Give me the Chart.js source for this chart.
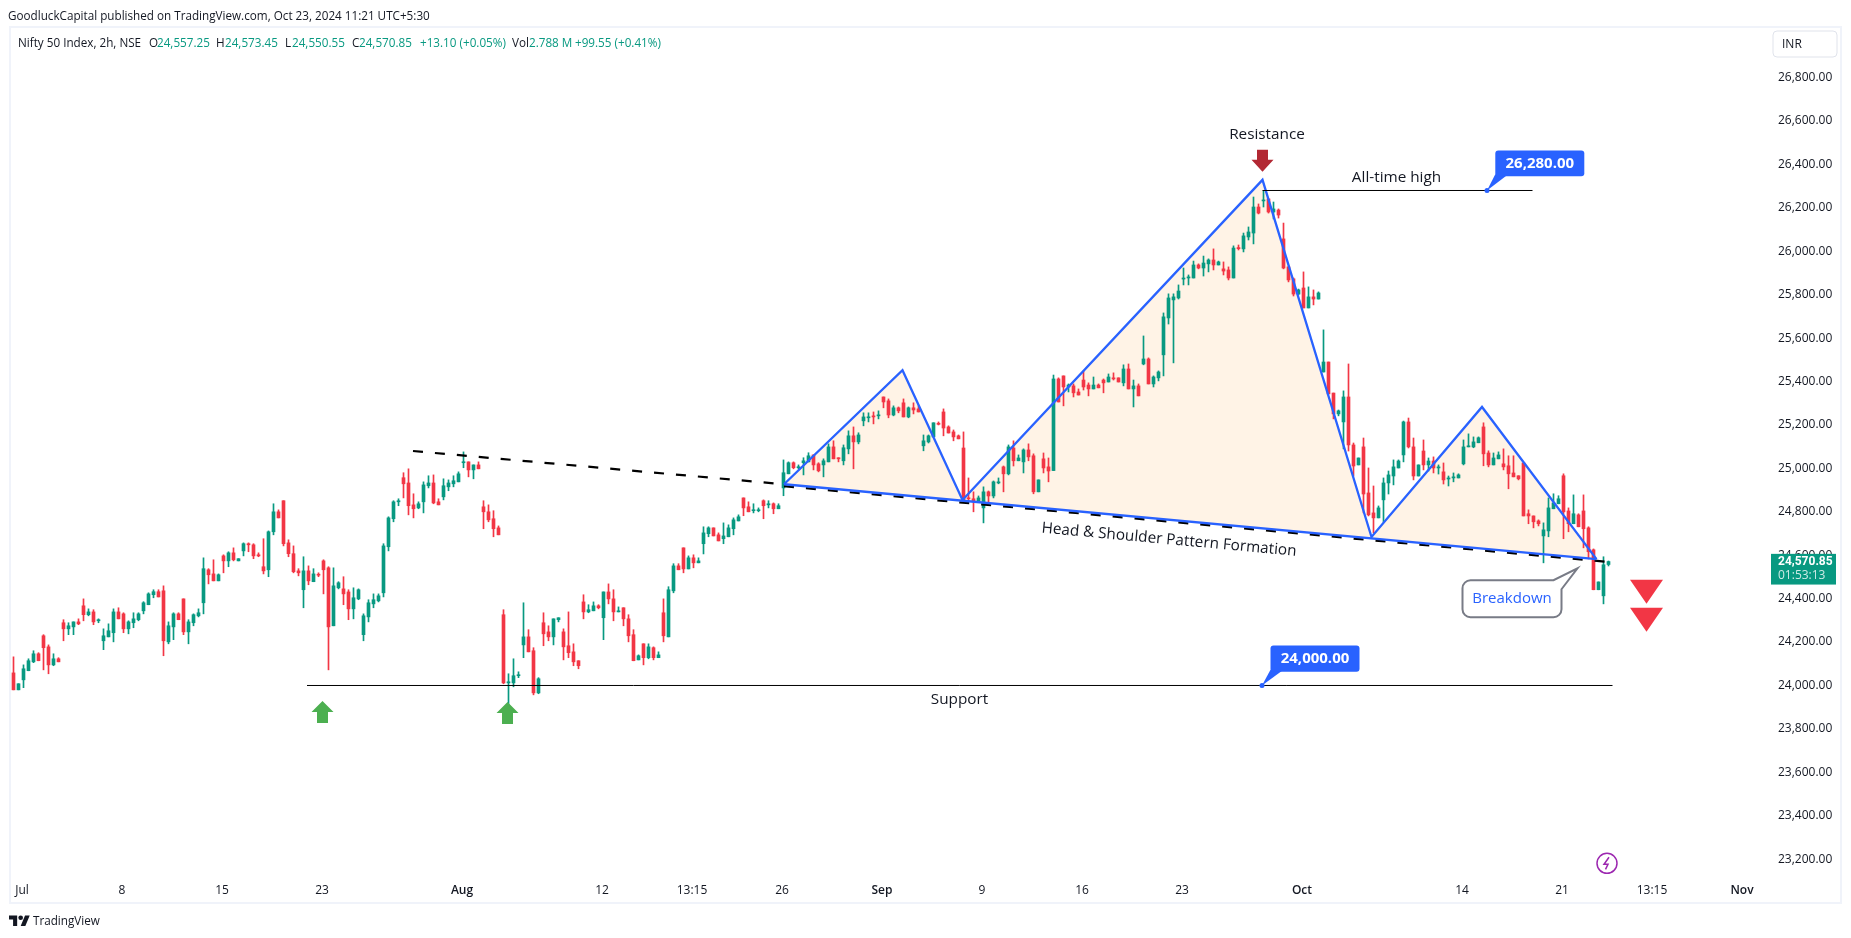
<!DOCTYPE html>
<html><head><meta charset="utf-8"><title>Nifty 50 Index</title>
<script src="https://cdn.jsdelivr.net/npm/chart.js@4"></script>
<style>
html,body{margin:0;padding:0;background:#fff;width:1851px;height:938px;overflow:hidden}
canvas{position:absolute;left:0;top:0}
.t{position:absolute;white-space:nowrap;font-family:"Open Sans",sans-serif;font-size:11.7px;line-height:16px;color:#131722}
.g{color:#089981}
</style></head><body>
<canvas id="c" width="1851" height="938"></canvas>
<div id="overlay"></div>
<svg style="position:absolute;left:9px;top:913px" width="21" height="13" viewBox="0 0 36 22"><path fill="#131722" d="M14 22H7V11H0V4h14v18zM28 22h-8l7.5-18h8L28 22z"/><circle fill="#131722" cx="20" cy="8" r="4"/></svg>
<script>
const opens=[24058,23980,24026,24068,24109,24146,24229,24178,24095,24123,
24289,24261,24270,24293,24367,24326,24339,24298,24206,24224,
24243,24339,24330,24261,24289,24303,24344,24372,24418,24432,
24436,24201,24270,24330,24399,24247,24289,24321,24381,24533,
24514,24482,24597,24574,24611,24574,24620,24653,24648,24602,
24547,24533,24708,24800,24851,24657,24607,24528,24441,24528,
24478,24511,24574,24542,24275,24450,24445,24431,24353,24399,
24234,24316,24376,24390,24427,24639,24768,24846,24957,24933,
24832,24818,24846,24920,24933,24846,24869,24915,24929,24938,
25026,25030,24993,25016,24823,24800,24768,24726,24326,24012,
24012,24045,24187,24224,24160,23966,24289,24247,24224,24303,
24247,24183,24155,24114,24385,24339,24344,24367,24312,24431,
24399,24339,24358,24307,24234,24118,24192,24128,24174,24128,
24335,24224,24436,24551,24634,24537,24588,24565,24653,24699,
24726,24694,24676,24685,24722,24758,24864,24823,24805,24805,
24851,24832,24837,24814,24910,24975,25026,25003,25026,25030,
25062,25021,25016,25030,25099,25049,25035,25090,25150,25122,
25219,25233,25242,25242,25329,25311,25246,25279,25302,25237,
25279,25274,25104,25122,25145,25208,25260,25191,25168,25150,
25094,24864,24860,24846,24818,24892,24873,24933,25007,24975,
25094,25035,25030,25085,25058,24892,25044,25007,24990,25412,
25426,25375,25380,25352,25407,25384,25366,25384,25407,25398,
25417,25417,25394,25458,25366,25380,25481,25504,25389,25417,
25523,25693,25776,25785,25872,25877,25877,25937,25923,25942,
25960,25937,25919,25914,25877,26017,26011,26066,26084,26204,
26232,26241,26181,26190,26057,25928,25873,25803,25831,25739,
25790,25780,25444,25490,25347,25251,25214,25329,25108,25016,
25099,24887,24795,24772,24855,24933,24965,25002,25062,25214,
25099,24965,25080,25016,25034,25002,24984,24951,24956,24956,
25021,25099,25099,25118,25191,25071,25016,25044,25021,25012,
24979,24966,25025,24791,24781,24758,24689,24712,24814,24837,
24966,24804,24745,24786,24804,24726,24625,24441,24413,24557.25];
const highs=[24132,24008,24095,24123,24160,24151,24234,24187,24146,24128,
24303,24289,24293,24307,24399,24353,24349,24307,24261,24284,
24353,24358,24335,24298,24335,24335,24386,24427,24441,24441,
24459,24293,24335,24335,24399,24303,24330,24353,24588,24538,
24579,24514,24602,24616,24634,24584,24657,24657,24653,24611,
24676,24712,24837,24809,24851,24671,24643,24538,24593,24551,
24538,24519,24579,24547,24542,24478,24501,24441,24450,24445,
24330,24395,24422,24422,24653,24777,24851,24860,24980,24998,
24883,24846,24938,24966,24970,24860,24952,24947,24966,24984,
25076,25030,25016,25030,24851,24832,24805,24735,24349,24054,
24123,24063,24381,24257,24174,24036,24335,24275,24307,24312,
24261,24339,24192,24114,24418,24372,24385,24372,24431,24468,
24441,24362,24358,24326,24257,24141,24192,24192,24178,24155,
24399,24455,24561,24561,24634,24597,24602,24588,24731,24731,
24726,24703,24749,24740,24772,24786,24864,24846,24837,24818,
24855,24851,24841,24837,25039,25030,25030,25016,25049,25072,
25062,25026,25044,25113,25127,25049,25108,25173,25191,25164,
25256,25256,25260,25265,25329,25320,25288,25283,25320,25283,
25302,25288,25154,25154,25210,25214,25274,25196,25177,25154,
25168,24956,24892,24873,24915,24896,24942,24956,25011,25108,
25127,25062,25090,25113,25067,24947,25071,25048,25430,25417,
25426,25389,25389,25366,25449,25394,25421,25389,25412,25435,
25440,25417,25477,25481,25407,25389,25610,25509,25426,25449,
25716,25804,25804,25845,25923,25891,25955,25942,25978,25965,
26011,25955,25951,25928,26025,26029,26084,26112,26250,26218,
26278,26241,26227,26195,26130,25932,25877,25826,25905,25836,
25822,25813,25638,25490,25347,25269,25357,25481,25117,25048,
25140,25002,24919,24827,24956,24988,25039,25039,25218,25232,
25140,25016,25131,25048,25053,25016,25025,24965,24979,24975,
25131,25159,25145,25145,25210,25081,25071,25076,25090,25058,
25058,24966,25025,24809,24781,24763,24749,24864,24883,24874,
24975,24818,24878,24791,24878,24731,24629,24477,24593,24573.45];
const lows=[23980,23980,23990,24068,24105,24114,24072,24054,24091,24109,
24206,24234,24234,24280,24298,24321,24280,24289,24165,24224,
24201,24307,24243,24238,24266,24298,24330,24372,24404,24408,
24137,24192,24211,24303,24234,24192,24275,24316,24330,24468,
24482,24482,24519,24547,24574,24574,24597,24616,24584,24593,
24514,24501,24694,24772,24643,24593,24519,24505,24358,24464,
24478,24501,24422,24072,24275,24445,24372,24303,24307,24395,
24206,24293,24358,24385,24408,24620,24754,24828,24864,24786,
24772,24814,24795,24910,24837,24832,24855,24897,24915,24938,
25003,24961,24952,24998,24722,24754,24685,24694,24008,23893,
23994,24036,24128,24155,23957,23962,24183,24206,24187,24293,
24118,24128,24091,24077,24307,24335,24344,24353,24211,24376,
24298,24339,24275,24201,24114,24118,24095,24123,24118,24128,
24201,24224,24427,24533,24519,24537,24542,24565,24606,24685,
24689,24666,24653,24685,24694,24758,24782,24800,24795,24800,
24768,24818,24791,24814,24874,24975,24998,24998,24970,25030,
24993,24984,24961,25030,25044,25030,25016,25067,24998,25113,
25196,25214,25205,25228,25279,25233,25242,25256,25237,25233,
25251,25260,25081,25117,25145,25200,25150,25163,25127,25136,
24850,24850,24800,24846,24749,24832,24864,24929,24892,24970,
25011,25035,24979,25035,24883,24892,24979,24938,24990,25306,
25288,25352,25329,25338,25361,25334,25366,25371,25348,25398,
25407,25398,25380,25366,25283,25334,25477,25389,25375,25403,
25426,25665,25486,25780,25845,25845,25877,25919,25886,25905,
25914,25937,25891,25868,25877,26006,25997,26052,26034,26172,
26204,26176,26149,26153,25919,25859,25794,25799,25739,25739,
25753,25780,25444,25343,25228,25242,25090,25080,24965,25016,
24795,24781,24703,24772,24753,24882,24924,25002,25030,25094,
24947,24965,24993,24988,24979,24974,24928,24919,24938,24956,
25016,25099,25095,25118,25012,25007,25016,25044,24993,24906,
24961,24947,24781,24745,24726,24735,24565,24685,24814,24837,
24676,24708,24745,24731,24634,24583,24441,24441,24376,24550.55];
const closes=[23980,24008,24077,24114,24146,24114,24174,24095,24123,24109,
24261,24275,24293,24284,24326,24339,24293,24303,24229,24252,
24339,24307,24261,24293,24307,24330,24381,24422,24432,24408,
24206,24275,24330,24303,24247,24293,24326,24335,24538,24510,
24482,24510,24574,24611,24579,24584,24653,24648,24597,24597,
24528,24708,24800,24772,24653,24607,24524,24519,24528,24482,
24514,24508,24533,24270,24459,24473,24422,24353,24404,24441,
24321,24381,24395,24413,24643,24772,24846,24851,24929,24828,
24814,24837,24924,24933,24841,24832,24920,24933,24943,24975,
25030,24993,25016,24998,24800,24763,24722,24694,24012,24017,
24045,24049,24224,24155,23966,24031,24238,24224,24307,24312,
24178,24151,24109,24091,24339,24349,24367,24358,24431,24399,
24339,24344,24307,24229,24114,24137,24128,24178,24128,24141,
24229,24441,24551,24533,24537,24588,24565,24574,24703,24726,
24689,24666,24689,24726,24763,24777,24818,24800,24809,24809,
24828,24837,24814,24828,24980,25026,25003,25007,25035,25058,
25016,24989,25035,25099,25044,25044,25095,25150,25122,25154,
25237,25237,25237,25246,25306,25246,25279,25265,25237,25279,
25269,25260,25127,25150,25210,25203,25186,25163,25145,25136,
24850,24860,24846,24864,24892,24873,24938,24938,24975,25099,
25035,25048,25085,25053,24892,24947,25002,24988,25412,25306,
25375,25384,25348,25338,25375,25366,25384,25371,25394,25421,
25412,25398,25458,25366,25380,25334,25504,25389,25421,25444,
25698,25785,25790,25817,25877,25882,25937,25923,25946,25960,
25937,25951,25909,25877,26015,26012,26071,26089,26204,26176,
26236,26181,26195,26167,25923,25868,25803,25822,25739,25790,
25780,25808,25490,25343,25251,25265,25329,25108,25011,25048,
24882,24786,24772,24818,24933,24970,25007,25034,25214,25099,
24965,25016,25016,25034,25002,25007,24947,24956,24961,24970,
25099,25104,25122,25141,25067,25016,25048,25062,25007,24975,
24961,24952,24781,24781,24754,24745,24717,24818,24841,24860,
24800,24745,24791,24731,24722,24616,24441,24477,24556,24570.85];

const priceTicks=[23200,23400,23600,23800,24000,24200,24400,24600,24800,25000,25200,25400,25600,25800,26000,26200,26400,26600,26800];
const dateLabels=['Jul','8','15','23','Aug','12','13:15','26','Sep','9','16','23','Oct','14','21','13:15','Nov'];
const dateIndex=[1.7,21.7,41.7,61.7,89.7,117.7,135.7,153.7,173.7,193.7,213.7,233.7,257.7,289.7,309.7,327.7,345.7];
const monthLabels=['Aug','Sep','Oct','Nov'];

const patternIndex=[154.1,177.8,189.8,249.8,271.6,293.7,316.6];
const patternPrice=[24927,25452,24854,26329,24684,25283,24582];
const neckIndex=[154.1,316.6];
const neckPrice=[24927,24582];
const dashIndex=[79.9,154.1];
const dashPrice=[25080,24927];
const neckDashIndex=[154.1,319];
const neckDashPrice=[24918,24569];
const supportIndex=[58.7,319.8];
const supportPrice=[24000,24000];
const athIndex=[249.8,303.8];
const athPrice=[26280,26280];

const GREEN='#089981',RED='#f23645',BLUE='#2962ff',INK='#131722';
const SANS='"Open Sans",sans-serif';
const fmt=v=>v.toLocaleString('en-US',{minimumFractionDigits:2,maximumFractionDigits:2});
const pts=(xs,ys)=>xs.map((x,i)=>({x,y:ys[i]}));
const candleColor=opens.map((o,i)=>closes[i]>=o?GREEN:RED);
const lineBase={type:'line',pointRadius:0,tension:0,fill:false};

function roundRect(ctx,x,y,w,h,r){ctx.beginPath();ctx.roundRect(x,y,w,h,r);}
function poly(ctx,p,color){ctx.fillStyle=color;ctx.beginPath();p.forEach((q,i)=>i?ctx.lineTo(q[0],q[1]):ctx.moveTo(q[0],q[1]));ctx.closePath();ctx.fill();}
function label(ctx,s,x,y,font,color,align,rot){ctx.save();ctx.translate(x,y);if(rot)ctx.rotate(rot);ctx.font=font;ctx.fillStyle=color;ctx.textAlign=align||'center';ctx.textBaseline='middle';ctx.fillText(s,0,0);ctx.restore();}

const annotate={id:'annotate',afterDraw(chart){
  const {ctx,scales:{x,y}}=chart;
  const X=i=>x.getPixelForValue(i),Y=p=>y.getPixelForValue(p);
  ctx.save();
  // frame
  ctx.strokeStyle='#f0f3fa';ctx.lineWidth=2;ctx.strokeRect(10,27,1831,876);
  // texts on chart
  const f15='15.3px '+SANS;
  label(ctx,'Resistance',X(250.7),Y(26539),f15,INK);
  label(ctx,'All-time high',X(276.6),Y(26339),f15,INK);
  label(ctx,'Support',X(189.2),Y(23934),f15,INK);
  label(ctx,'Head & Shoulder Pattern Formation',X(231.1),Y(24671),f15,INK,'center',0.0905);
  // arrows
  [[61.8,23928],[98.8,23924]].forEach(([i,p])=>{const a=X(i),b=Y(p);
    poly(ctx,[[a,b],[a+11,b+11],[a+5.5,b+11],[a+5.5,b+22],[a-5.5,b+22],[a-5.5,b+11],[a-11,b+11]],'#4caf50');});
  {const a=X(249.8),b=Y(26366);
    poly(ctx,[[a,b],[a+11,b-12],[a+5.5,b-12],[a+5.5,b-22],[a-5.5,b-22],[a-5.5,b-12],[a-11,b-12]],'#b22833');}
  [24377,24248].forEach(p=>{const a=X(326.6),b=Y(p);poly(ctx,[[a,b],[a+16.5,b-24],[a-16.5,b-24]],RED);});
  // price pins
  [[294.7,26280,8.3,-40,89,25.7],[249.7,24000,8.5,-40,89,26.3]].forEach(([i,p,dx,dy,w,h])=>{
    const a=X(i),b=Y(p);
    poly(ctx,[[a,b],[a+dx,b+dy+h-2],[a+dx+13,b+dy+h-2]],BLUE);
    ctx.fillStyle=BLUE;roundRect(ctx,a+dx,b+dy,w,h,3);ctx.fill();
    ctx.beginPath();ctx.arc(a,b,2.5,0,Math.PI*2);ctx.fill();
    label(ctx,fmt(p),a+dx+w/2,b+dy+h/2,'bold 15px '+SANS,'#fff');
  });
  // breakdown callout
  {const a=X(312.8),b=Y(24540),l=a-115,t=b+12,w=99,h=37,r=8;
    ctx.beginPath();ctx.moveTo(l+r,t);ctx.lineTo(a-24,t);ctx.lineTo(a,b);ctx.lineTo(l+w,t+9);ctx.lineTo(l+w,t+h-r);
    ctx.arcTo(l+w,t+h,l+w-r,t+h,r);ctx.lineTo(l+r,t+h);ctx.arcTo(l,t+h,l,t+h-r,r);ctx.lineTo(l,t+r);ctx.arcTo(l,t,l+r,t,r);ctx.closePath();
    ctx.fillStyle='#fff';ctx.fill();ctx.strokeStyle='#787b86';ctx.lineWidth=2;ctx.stroke();
    label(ctx,'Breakdown',l+w/2,t+h/2,'15px '+SANS,BLUE);}
  // bolt icon
  {const a=X(318.7),b=Y(23181);ctx.strokeStyle='#9c27b0';ctx.lineWidth=1.5;ctx.beginPath();ctx.arc(a,b,10,0,Math.PI*2);ctx.stroke();
    ctx.beginPath();ctx.moveTo(a+2,b-6);ctx.lineTo(a-3,b+1);ctx.lineTo(a+1,b+1);ctx.lineTo(a-1.5,b+6);ctx.stroke();}
  // last price tag
  {const last=closes[closes.length-1],b=Y(last);ctx.fillStyle=GREEN;ctx.fillRect(1771,b-7.7,65,30.7);
    label(ctx,fmt(last),1778,b,'bold 12px Roboto,sans-serif','#fff','left');
    label(ctx,'01:53:13',1778,b+14,'12px '+SANS,'rgba(255,255,255,.8)','left');}
  // currency button
  ctx.fillStyle='#fff';ctx.strokeStyle='#e0e3eb';ctx.lineWidth=1;roundRect(ctx,1773,31,64,26,4);ctx.fill();ctx.stroke();
  label(ctx,'INR',1782,44.5,'12px '+SANS,INK,'left');
  ctx.restore();
}};

new Chart(document.getElementById('c'),{
  type:'bar',
  data:{datasets:[
    Object.assign({},lineBase,{data:pts(patternIndex,patternPrice),borderWidth:0,borderColor:'transparent',backgroundColor:'#fff3e6',fill:'+1',order:20}),
    Object.assign({},lineBase,{data:pts(neckIndex,neckPrice),borderWidth:0,borderColor:'transparent',order:21}),
    {data:opens.map((o,i)=>({x:i,y:[lows[i],highs[i]]})),backgroundColor:candleColor,barThickness:1,grouped:false,order:6},
    {data:opens.map((o,i)=>({x:i,y:[o,closes[i]]})),backgroundColor:candleColor,barThickness:3,minBarLength:1,grouped:false,order:5},
    Object.assign({},lineBase,{data:pts(dashIndex,dashPrice),borderColor:'#000',borderWidth:2.2,borderDash:[10,12],order:4}),
    Object.assign({},lineBase,{data:pts(neckDashIndex,neckDashPrice),borderColor:'#000',borderWidth:2.2,borderDash:[10,12],order:4}),
    Object.assign({},lineBase,{data:pts(neckIndex,neckPrice),borderColor:BLUE,borderWidth:2.3,order:3}),
    Object.assign({},lineBase,{data:pts(patternIndex,patternPrice),borderColor:BLUE,borderWidth:2.3,borderJoinStyle:'miter',order:2}),
    Object.assign({},lineBase,{data:pts(supportIndex,supportPrice),borderColor:'#000',borderWidth:1,order:1}),
    Object.assign({},lineBase,{data:pts(athIndex,athPrice),borderColor:'#000',borderWidth:1,order:1})
  ]},
  options:{
    responsive:false,animation:false,devicePixelRatio:1,events:[],
    layout:{padding:{left:11,top:28,right:11,bottom:35}},
    plugins:{legend:{display:false},tooltip:{enabled:false},title:{display:false}},
    scales:{
      x:{type:'linear',min:-0.5,max:351.5,offset:false,grid:{display:false,drawTicks:false},border:{display:false},
        afterBuildTicks(s){s.ticks=dateIndex.map(value=>({value}));},
        afterFit(s){s.height=33;},
        ticks:{autoSkip:false,maxRotation:0,padding:13,color:INK,includeBounds:false,
          font:c=>({family:SANS,size:12,weight:c.tick&&monthLabels.includes(dateLabels[dateIndex.indexOf(c.tick.value)])?'600':'400'}),
          callback:v=>dateLabels[dateIndex.indexOf(v)]}},
      y:{type:'linear',position:'right',min:23150.15,max:27028.45,grid:{display:false,drawTicks:false},border:{display:false},
        afterBuildTicks(s){s.ticks=priceTicks.map(value=>({value}));},
        afterFit(s){s.width=69;},
        ticks:{autoSkip:false,padding:7,color:INK,font:{family:SANS,size:12},callback:v=>fmt(v)}}
    }
  },
  plugins:[annotate]
});

const overlay=document.getElementById('overlay');
const textBits=[
 ['GoodluckCapital published on TradingView.com, Oct 23, 2024 11:21 UTC+5:30',8,7,''],
 ['Nifty 50 Index, 2h, NSE',18,34,''],['O',149,34,''],['24,557.25',157,34,'g'],['H',216,34,''],['24,573.45',225,34,'g'],
 ['L',285,34,''],['24,550.55',292,34,'g'],['C',352,34,''],['24,570.85',359,34,'g'],['+13.10 (+0.05%)',420,34,'g'],
 ['Vol',512,34,''],['2.788 M',529,34,'g'],['+99.55 (+0.41%)',575,34,'g'],['TradingView',33,912,'']
];
textBits.forEach(([s,l,t,c])=>{const d=document.createElement('div');d.className='t '+c;d.textContent=s;d.style.left=l+'px';d.style.top=t+'px';overlay.appendChild(d);});
</script></body></html>
